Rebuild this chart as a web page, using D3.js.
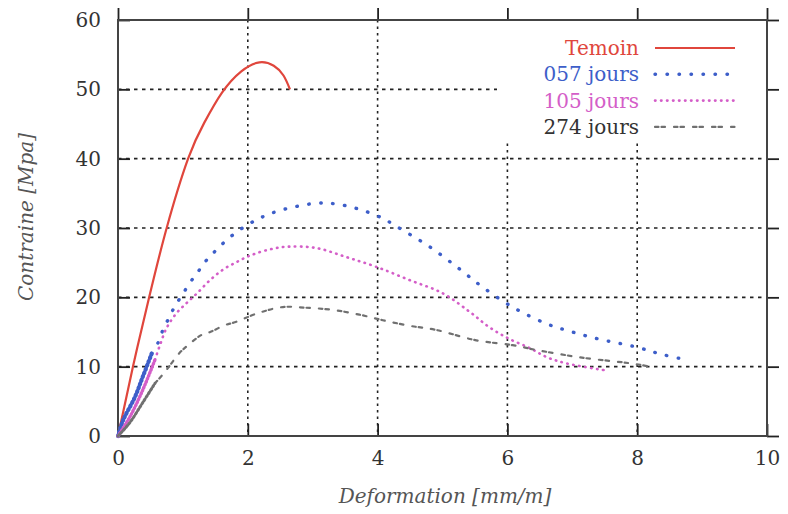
<!DOCTYPE html>
<html>
<head>
<meta charset="utf-8">
<script src="https://cdn.jsdelivr.net/npm/d3@7"></script>
<style>
  body { margin: 0; background: #fff; }
</style>
</head>
<body>
<div id="chart"></div>
<script>
// data: [deformation, contrainte]
var temoin = [[0, 0], [0.23, 10], [0.48, 20], [0.75, 30], [1.08, 40], [1.33, 45.2], [1.6, 49.5],
  [1.9, 52.6], [2.18, 53.9], [2.4, 53.4], [2.55, 52], [2.65, 50]];

var jours057 = [[0, 0], [0.08, 2.3], [0.26, 5.6], [0.38, 8.5], [0.52, 11.9], [0.62, 13.5], [0.7, 15.5],
  [0.79, 17.1], [0.88, 18.8], [0.98, 20.2], [1.1, 22], [1.22, 23.5], [1.34, 25.1], [1.48, 26.5],
  [1.62, 27.8], [1.77, 29], [1.95, 30.2], [2.14, 31.2], [2.3, 31.9], [2.6, 32.8], [3.1, 33.6],
  [3.4, 33.4], [3.72, 32.7], [4.08, 31.4], [4.26, 30.4], [4.8, 27.3], [5.26, 24.1], [5.6, 21.6],
  [6.08, 18.6], [6.6, 16.2], [7.0, 15], [7.4, 14], [8.0, 12.8], [8.37, 11.8], [8.8, 10.9]];

var jours105 = [[0, 0], [0.18, 2.7], [0.38, 6.6], [0.57, 11], [0.65, 13.2], [0.75, 15.6], [0.9, 17.7],
  [1.06, 19.2], [1.22, 20.6], [1.42, 22.5], [1.62, 24], [1.83, 25.1], [2.03, 26], [2.29, 26.8],
  [2.6, 27.3], [3.06, 27.1], [3.52, 25.8], [3.98, 24.4], [4.49, 22.5], [5.0, 20.6], [5.42, 17.9],
  [5.72, 15.7], [6.03, 14], [6.34, 12.7], [6.6, 11.4], [6.9, 10.5], [7.49, 9.5]];

var jours274 = [[0, 0], [0.18, 1.9], [0.38, 4.8], [0.57, 7.6], [0.72, 9.2], [0.95, 12], [1.08, 13.1],
  [1.29, 14.6], [1.42, 15], [1.65, 16], [1.8, 16.4], [2.15, 17.7], [2.54, 18.6], [2.9, 18.5],
  [3.3, 18.2], [3.72, 17.5], [4.08, 16.7], [4.49, 15.9], [4.9, 15.3], [5.52, 13.8], [6.08, 13.1],
  [6.45, 12.4], [7.15, 11.3], [7.88, 10.5], [8.2, 10]];

var seriesNames = ["Temoin", "057 jours", "105 jours", "274 jours"];
// the early part of the aged series is sampled much tighter
var denseUpTo = [0, 0.52, 0.57, 0.57];

var xTicks = [0, 2, 4, 6, 8, 10];
var yTicks = [0, 10, 20, 30, 40, 50, 60];

var svgWidth = 788;
var svgHeight = 514;
var serif = "DejaVu Serif";

var margin = {
  top: 20,
  right: 21,
  bottom: 78,
  left: 118
};

var width = svgWidth - margin.left - margin.right;
var height = svgHeight - margin.top - margin.bottom;

var svg = d3.select("#chart")
  .append("svg")
  .attr("width", svgWidth)
  .attr("height", svgHeight);

var chartGroup = svg.append("g")
  .attr("transform", `translate(${margin.left}, ${margin.top})`);

var xScale = d3.scaleLinear().domain([0, 10]).range([0, width]);
var yScale = d3.scaleLinear().domain([0, 60]).range([height, 0]);

var styles = [
  { color: "#e0463c", width: 2.2, dash: null, denseDash: null },
  { color: "#3d5ec9", width: 3.4, dash: "0.5,11.5", denseDash: "1,3" },
  { color: "#d45ec8", width: 2.6, dash: "0.5,5.5", denseDash: "1,2.2" },
  { color: "#707070", width: 2.2, dash: "3.5,3,3.5,9", denseDash: "2,2" }
];

// grid
chartGroup.append("g")
  .selectAll("line")
  .data(xTicks.slice(1, -1))
  .enter()
  .append("line")
  .attr("x1", d => xScale(d))
  .attr("x2", d => xScale(d))
  .attr("y1", 0)
  .attr("y2", height)
  .attr("stroke", "#222")
  .attr("stroke-width", 1.6)
  .attr("stroke-dasharray", "2.5,4");

chartGroup.append("g")
  .selectAll("line")
  .data(yTicks.slice(1, -1))
  .enter()
  .append("line")
  .attr("x1", 0)
  .attr("x2", width)
  .attr("y1", d => yScale(d))
  .attr("y2", d => yScale(d))
  .attr("stroke", "#222")
  .attr("stroke-width", 1.6)
  .attr("stroke-dasharray", "3.5,4.5");

// legend box hides the grid behind it
chartGroup.append("rect")
  .attr("x", 379)
  .attr("y", 0)
  .attr("width", width - 379)
  .attr("height", 122)
  .attr("fill", "#fff");

// axes with ticks pointing inside
var bottomAxis = d3.axisBottom(xScale).tickValues(xTicks).tickSize(-12).tickPadding(15);
var leftAxis = d3.axisLeft(yScale).tickValues(yTicks).tickSize(-12).tickPadding(17);

var xAxisGroup = chartGroup.append("g")
  .attr("transform", `translate(0, ${height})`)
  .call(bottomAxis);

var yAxisGroup = chartGroup.append("g")
  .call(leftAxis);

chartGroup.append("g")
  .call(d3.axisBottom(xScale).tickValues(xTicks).tickSize(-12).tickFormat(""));

chartGroup.append("g")
  .attr("transform", `translate(${width}, 0)`)
  .call(d3.axisLeft(yScale).tickValues(yTicks).tickSize(-12).tickFormat(""));

chartGroup.selectAll(".domain").remove();
chartGroup.selectAll(".tick line")
  .attr("stroke", "#222")
  .attr("stroke-width", 1.8);

xAxisGroup.attr("font-family", serif);
yAxisGroup.attr("font-family", serif);

xAxisGroup.selectAll("text")
  .attr("font-size", "20px")
  .attr("fill", "#333");

yAxisGroup.selectAll("text")
  .attr("font-size", "20px")
  .attr("fill", "#333");

// frame
chartGroup.append("rect")
  .attr("width", width)
  .attr("height", height)
  .attr("fill", "none")
  .attr("stroke", "#444")
  .attr("stroke-width", 2);

// curves
var line = d3.line()
  .x(d => xScale(d[0]))
  .y(d => yScale(d[1]))
  .curve(d3.curveCatmullRom.alpha(0.5));

var smoothLine = d3.line()
  .x(d => xScale(d[0]))
  .y(d => yScale(d[1]))
  .curve(d3.curveNatural);

[temoin, jours057, jours105, jours274].forEach(function (data, i) {
  var s = styles[i];
  var sparse = data.filter(d => d[0] >= denseUpTo[i]);
  var dense = data.filter(d => d[0] <= denseUpTo[i]);

  chartGroup.append("path")
    .attr("d", i == 0 ? smoothLine(sparse) : line(sparse))
    .attr("fill", "none")
    .attr("stroke", s.color)
    .attr("stroke-width", s.width)
    .attr("stroke-linecap", s.dash ? "round" : "butt")
    .attr("stroke-dasharray", s.dash);

  if (dense.length > 1) {
    chartGroup.append("path")
      .attr("d", line(dense))
      .attr("fill", "none")
      .attr("stroke", s.color)
      .attr("stroke-width", s.width + 0.8)
      .attr("stroke-linecap", "round")
      .attr("stroke-dasharray", s.denseDash);
  }
});

// legend
var legend = chartGroup.append("g")
  .attr("transform", "translate(521, 28)");

seriesNames.forEach(function (name, i) {
  var s = styles[i];
  var row = legend.append("g")
    .attr("transform", `translate(0, ${i * 26.3})`);

  row.append("text")
    .attr("y", 7)
    .attr("text-anchor", "end")
    .attr("font-family", serif)
    .attr("font-size", "20px")
    .attr("fill", i == 3 ? "#333" : s.color)
    .text(name);

  row.append("line")
    .attr("x1", 16)
    .attr("x2", 96)
    .attr("stroke", s.color)
    .attr("stroke-width", s.width)
    .attr("stroke-linecap", s.dash ? "round" : "butt")
    .attr("stroke-dasharray", s.dash);
});

// axis labels
svg.append("text")
  .attr("x", 445)
  .attr("y", 503)
  .attr("text-anchor", "middle")
  .attr("font-family", serif)
  .attr("font-size", "20px")
  .attr("font-style", "italic")
  .attr("fill", "#555")
  .text("Deformation [mm/m]");

svg.append("text")
  .attr("transform", "translate(33, 217) rotate(-90)")
  .attr("text-anchor", "middle")
  .attr("font-family", serif)
  .attr("font-size", "20px")
  .attr("font-style", "italic")
  .attr("fill", "#555")
  .text("Contraine [Mpa]");
</script>
</body>
</html>
